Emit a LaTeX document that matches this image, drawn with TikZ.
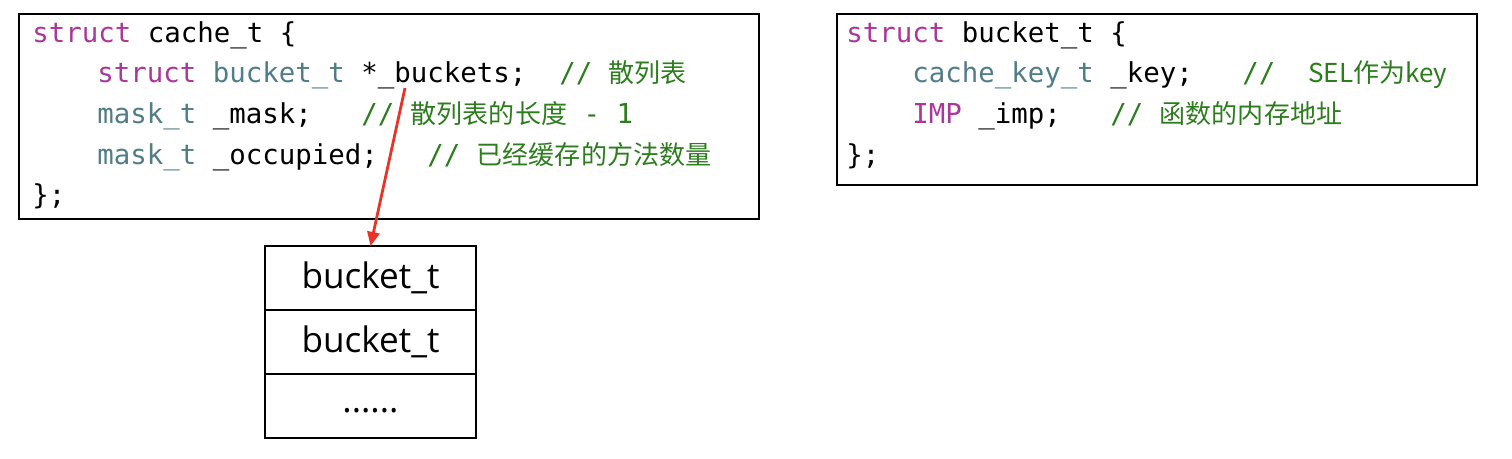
\documentclass[tikz,border=0pt]{standalone}
\usepackage{fontspec}
\usepackage{xcolor}
\usepackage{tikz}
\usetikzlibrary{arrows.meta, positioning}
\setmonofont{DejaVu Sans Mono}
\newfontfamily\cjk{Noto Sans CJK SC}[Scale=0.95]
\newfontfamily\boxfont{Open Sans}
\definecolor{codekw}{RGB}{170, 55, 155}
\definecolor{codetype}{RGB}{80, 125, 135}
\definecolor{codecmt}{RGB}{45, 125, 30}
\definecolor{ptrred}{RGB}{232, 52, 40}
\newcommand{\ckw}[1]{\textcolor{codekw}{#1}}
\newcommand{\ctype}[1]{\textcolor{codetype}{#1}}
\newcommand{\ccmt}[1]{\textcolor{codecmt}{#1}}
\tikzset{
    codebox/.style={rectangle, draw, line width=1.2pt, anchor=north west, inner sep=0pt},
    codeline/.style={anchor=base west, inner sep=0pt, font=\ttfamily\fontsize{15.6}{18}\selectfont},
    cell/.style={rectangle, draw, line width=1.1pt, minimum width=4.22cm, minimum height=1.28cm, inner sep=0pt, outer sep=0pt, font=\boxfont\fontsize{20}{24}\selectfont}
}

\begin{document}
\begin{tikzpicture}[
    x=0.02cm, y=-0.02cm,
    pointer/.style={-{Triangle[length=8pt, width=7pt]}, line width=1.6pt, ptrred}
]
    \useasboundingbox (0,0) rectangle (1512,458);

    % --- struct cache_t ---
    \node[codebox, minimum width=14.8cm, minimum height=4.1cm] (cachebox) at (18,13) {};
    \node[codeline] (cline1) at (32,42) {\ckw{struct} cache\_t \{};
    \node[codeline] (cline2) at (97,82) {\ckw{struct} \ctype{bucket\_t} *\_buckets;\ \ \ccmt{//\ {\cjk 散列表}}};
    \node[codeline] (cline3) at (97,123) {\ctype{mask\_t} \_mask;\ \ \ \ccmt{//\ {\cjk 散列表的长度}\ -\ 1}};
    \node[codeline] (cline4) at (97,164) {\ctype{mask\_t} \_occupied;\ \ \ \ccmt{//\ {\cjk 已经缓存的方法数量}}};
    \node[codeline] (cline5) at (32,204) {\};};

    % --- struct bucket_t ---
    \node[codebox, minimum width=12.8cm, minimum height=3.42cm] (bucketbox) at (836,13) {};
    \node[codeline] (bline1) at (846,42) {\ckw{struct} bucket\_t \{};
    \node[codeline] (bline2) at (912,82) {\ctype{cache\_key\_t} \_key;\ \ \ \ccmt{//\ \ {\cjk SEL作为key}}};
    \node[codeline] (bline3) at (912,123) {\ckw{IMP} \_imp;\ \ \ \ccmt{//\ {\cjk 函数的内存地址}}};
    \node[codeline] (bline4) at (846,164) {\};};

    % --- hash table of buckets ---
    \node[cell, anchor=north] (slot1) at (370.5,246) {bucket\_t};
    \node[cell, below=0pt of slot1] (slot2) {bucket\_t};
    \node[cell, below=0pt of slot2] (slot3) {\raisebox{-3.5pt}[0pt][0pt]{......}};

    % pointer from _buckets
    \coordinate (ptr) at (405,88);
    \draw[pointer] (ptr) -- (slot1.north);
\end{tikzpicture}
\end{document}
